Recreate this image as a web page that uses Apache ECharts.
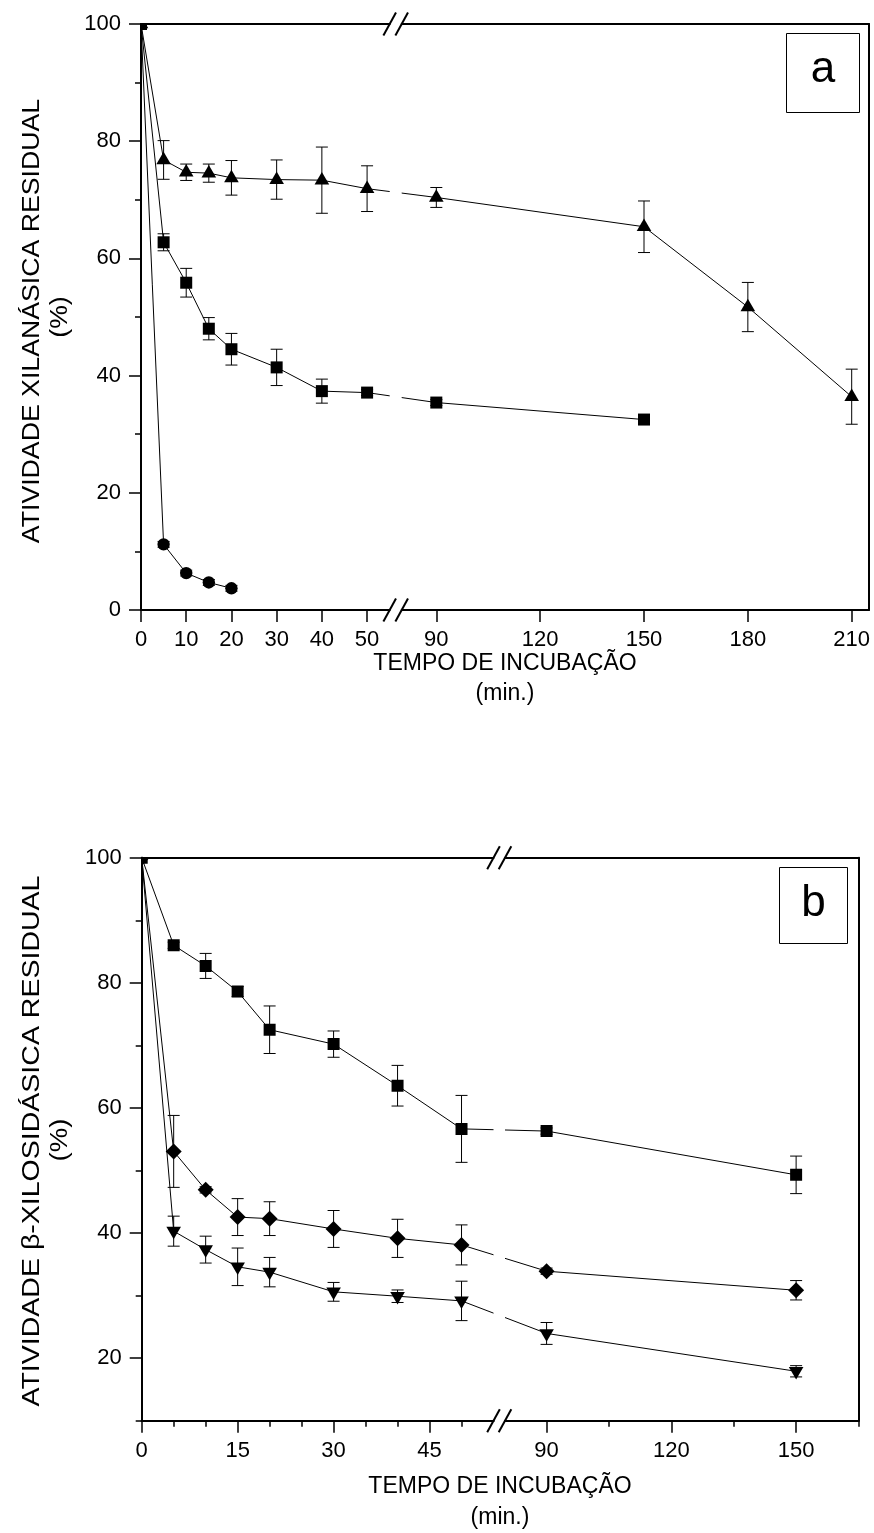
<!DOCTYPE html>
<html><head><meta charset="utf-8">
<script src="https://cdn.jsdelivr.net/npm/echarts@6/dist/echarts.min.js"></script>
<style>html,body{margin:0;padding:0;background:#fff}#c{width:874px;height:1533px}</style>
</head><body><div id="c"></div>
<script>
// ---------------- DATA ----------------
// Panel a: residual xylanase activity (%)
const timeATri = [0, 5, 10, 15, 20, 30, 40, 50, 90, 150, 180, 210];
const xilTri = [100, 76.8, 74.7, 74.55, 73.75, 73.45, 73.35, 71.9, 70.4, 65.4, 51.7, 36.4];
const xilTriErr = [0, 3.3, 1.4, 1.55, 2.95, 3.35, 5.65, 3.9, 1.7, 4.4, 4.2, 4.7];
const timeASq = [0, 5, 10, 15, 20, 30, 40, 50, 90, 150];
const xilSq = [100, 62.75, 55.85, 48.0, 44.5, 41.4, 37.35, 37.1, 35.4, 32.5];
const xilSqErr = [0, 1.45, 2.45, 1.9, 2.7, 3.1, 2.05, 0.5, 0.5, 0.5];
const timeACirc = [0, 5, 10, 15, 20];
const xilCirc = [100, 11.2, 6.3, 4.7, 3.7];
const xilCircErr = [0, 0.5, 0.5, 0.5, 0.5];

// Panel b: residual beta-xylosidase activity (%)
const timeB = [0, 5, 10, 15, 20, 30, 40, 50, 90, 150];
const xiloSq = [100, 86.0, 82.7, 78.6, 72.5, 70.2, 63.55, 56.65, 56.3, 49.3];
const xiloSqErr = [0, 0.5, 2.0, 0.8, 3.8, 2.1, 3.25, 5.35, 0.5, 3.0];
const xiloDia = [100, 53.05, 46.9, 42.55, 42.3, 40.65, 39.15, 38.1, 33.9, 30.85];
const xiloDiaErr = [0, 5.75, 0.5, 2.95, 2.7, 2.95, 3.05, 3.2, 0.5, 1.55];
const xiloTri = [100, 40.3, 37.35, 34.6, 33.75, 30.6, 29.9, 29.15, 23.95, 17.9];
const xiloTriErr = [0, 2.4, 2.15, 3.0, 2.35, 1.5, 1.0, 3.15, 1.75, 0.9];

// Tick labels
const ticksA1 = [0, 10, 20, 30, 40, 50];
const ticksA2 = [90, 120, 150, 180, 210];
const ticksYA = [0, 20, 40, 60, 80, 100];
const minorYA = [10, 30, 50, 70, 90];
const ticksB1 = [0, 15, 30, 45];
const minorB1 = [5, 10, 20, 25, 35, 40, 50];
const ticksB2 = [90, 120, 150];
const minorB2 = [105, 135, 165];
const ticksYB = [20, 40, 60, 80, 100];
const minorYB = [10, 30, 50, 70, 90];

// Axis ranges of the broken segments
const segA1 = [0, 55], segA2 = [80, 215], segB1 = [0, 55], segB2 = [80, 165];
const rangeYA = [0, 100], rangeYB = [10, 100];

// ---------------- LAYOUT ----------------
const FONT = '"Liberation Sans", Arial, sans-serif';
const TICK_FS = 22, TITLE_FS = 23;
const grids = [
  {left: 141, top: 24, width: 248.7, height: 586},
  {left: 401.7, top: 24, width: 467.3, height: 586},
  {left: 141.7, top: 857.7, width: 351.8, height: 563},
  {left: 505, top: 857.7, width: 353.5, height: 563}
];

function ax(g, rng, pos, ticks, len, labels, margin) {
  return {
    type: 'value', gridIndex: g, position: pos, min: rng[0], max: rng[1],
    axisLine: {show: true, onZero: false, lineStyle: {color: '#000', width: 2}},
    axisTick: ticks ? {show: true, inside: false, length: len, customValues: ticks, lineStyle: {color: '#000', width: 1.5}} : {show: false},
    axisLabel: labels ? {show: true, customValues: ticks, fontSize: TICK_FS, color: '#000', fontFamily: FONT, margin: margin} : {show: false},
    splitLine: {show: false}
  };
}

const xAxis = [
  ax(0, segA1, 'bottom', ticksA1, 12, true, 19),   // 0
  ax(0, segA1, 'top', null, 0, false),             // 1
  ax(1, segA2, 'bottom', ticksA2, 12, true, 19),   // 2
  ax(1, segA2, 'top', null, 0, false),             // 3
  ax(2, segB1, 'bottom', ticksB1, 12, true, 19),   // 4
  ax(2, segB1, 'bottom', minorB1, 6, false),       // 5
  ax(2, segB1, 'top', null, 0, false),             // 6
  ax(3, segB2, 'bottom', ticksB2, 12, true, 19),   // 7
  ax(3, segB2, 'bottom', minorB2, 6, false),       // 8
  ax(3, segB2, 'top', null, 0, false)              // 9
];
const yAxis = [
  ax(0, rangeYA, 'left', ticksYA, 12, true, 20),   // 0
  ax(0, rangeYA, 'left', minorYA, 6, false),       // 1
  ax(1, rangeYA, 'right', null, 0, false),         // 2
  ax(2, rangeYB, 'left', ticksYB, 12, true, 20),   // 3
  ax(2, rangeYB, 'left', minorYB, 6, false),       // 4
  ax(3, rangeYB, 'right', null, 0, false)          // 5
];

function seg(times, vals, errs, rng) {
  const out = [];
  times.forEach((t, i) => { if (t >= rng[0] && t <= rng[1]) out.push([t, vals[i], errs[i]]); });
  return out;
}
function marker(kind, cx, cy) {
  const s = {fill: '#000'};
  switch (kind) {
    case 'square': return {type: 'rect', shape: {x: cx - 6, y: cy - 6, width: 12, height: 12}, style: s};
    case 'circle': return {type: 'circle', shape: {cx: cx, cy: cy, r: 6.2}, style: s};
    case 'tri': return {type: 'polygon', shape: {points: [[cx, cy - 8.2], [cx + 7.3, cy + 4.3], [cx - 7.3, cy + 4.3]]}, style: s};
    case 'triDown': return {type: 'polygon', shape: {points: [[cx, cy + 8.2], [cx + 7.3, cy - 4.3], [cx - 7.3, cy - 4.3]]}, style: s};
    case 'diamond': return {type: 'polygon', shape: {points: [[cx, cy - 8], [cx + 8, cy], [cx, cy + 8], [cx - 8, cy]]}, style: s};
  }
}
function lineSeries(xi, yi, pts) {
  return {type: 'line', xAxisIndex: xi, yAxisIndex: yi, data: pts.map(p => [p[0], p[1]]),
    symbol: 'none', clip: true, animation: false, silent: true, z: 2,
    lineStyle: {color: '#000', width: 1}};
}
function markSeries(xi, yi, pts, kind) {
  return {type: 'custom', xAxisIndex: xi, yAxisIndex: yi, data: pts, clip: true,
    animation: false, silent: true, z: 3, encode: {x: 0, y: 1},
    renderItem: function (params, api) {
      const x = api.value(0), y = api.value(1), e = api.value(2);
      const c = api.coord([x, y]);
      const ch = [];
      if (e > 0) {
        const t = api.coord([x, y + e]), b = api.coord([x, y - e]);
        const ls = {stroke: '#000', lineWidth: 1};
        ch.push({type: 'line', shape: {x1: c[0], y1: t[1], x2: c[0], y2: b[1]}, style: ls});
        ch.push({type: 'line', shape: {x1: c[0] - 6, y1: t[1], x2: c[0] + 6, y2: t[1]}, style: ls});
        ch.push({type: 'line', shape: {x1: c[0] - 6, y1: b[1], x2: c[0] + 6, y2: b[1]}, style: ls});
      }
      ch.push(marker(kind, c[0], c[1]));
      return {type: 'group', children: ch};
    }};
}

// groups: [times, vals, errs, kind, seg1, seg2, x1, y1, x2, y2]
const groups = [
  [timeATri, xilTri, xilTriErr, 'tri', segA1, segA2, 0, 0, 2, 2],
  [timeASq, xilSq, xilSqErr, 'square', segA1, segA2, 0, 0, 2, 2],
  [timeACirc, xilCirc, xilCircErr, 'circle', segA1, segA2, 0, 0, 2, 2],
  [timeB, xiloSq, xiloSqErr, 'square', segB1, segB2, 4, 3, 7, 5],
  [timeB, xiloDia, xiloDiaErr, 'diamond', segB1, segB2, 4, 3, 7, 5],
  [timeB, xiloTri, xiloTriErr, 'triDown', segB1, segB2, 4, 3, 7, 5]
];

const series = [];
const links = [];
groups.forEach(g => {
  const [t, v, e, kind, s1, s2, x1, y1, x2, y2] = g;
  const d1 = seg(t, v, e, s1), d2 = seg(t, v, e, s2);
  let i1 = -1, i2 = -1;
  if (d1.length) { i1 = series.length; series.push(lineSeries(x1, y1, d1)); series.push(markSeries(x1, y1, d1, kind)); }
  if (d2.length) { i2 = series.length; series.push(lineSeries(x2, y2, d2)); series.push(markSeries(x2, y2, d2, kind)); }
  if (d1.length && d2.length) links.push({i1, i2, p1: d1[d1.length - 1], p2: d2[0], s1, s2});
});

const chart = echarts.init(document.getElementById('c'), null, {renderer: 'canvas'});
chart.setOption({animation: false, backgroundColor: '#fff', grid: grids, xAxis, yAxis, series});

// ---------------- GRAPHICS (break marks, connectors, titles) ----------------
const graphic = [];
const black = {stroke: '#000', lineWidth: 1};
links.forEach(L => {
  const a = chart.convertToPixel({seriesIndex: L.i1}, [L.p1[0], L.p1[1]]);
  const b = chart.convertToPixel({seriesIndex: L.i2}, [L.p2[0], L.p2[1]]);
  const xl = chart.convertToPixel({seriesIndex: L.i1}, [L.s1[1], L.p1[1]])[0];
  const xr = chart.convertToPixel({seriesIndex: L.i2}, [L.s2[0], L.p2[1]])[0];
  const yAt = x => a[1] + (b[1] - a[1]) * (x - a[0]) / (b[0] - a[0]);
  graphic.push({type: 'line', z: 2, shape: {x1: a[0], y1: a[1], x2: xl, y2: yAt(xl)}, style: black});
  graphic.push({type: 'line', z: 2, shape: {x1: xr, y1: yAt(xr), x2: b[0], y2: b[1]}, style: black});
});
// break slashes
[[0, 2, 0, 2, segA1, segA2, rangeYA], [4, 7, 3, 5, segB1, segB2, rangeYB]].forEach(([xa, xb, yi, yj, s1, s2, ry]) => {
  const pl = chart.convertToPixel({xAxisIndex: xa, yAxisIndex: yi}, [s1[1], ry[0]]);
  const pt = chart.convertToPixel({xAxisIndex: xa, yAxisIndex: yi}, [s1[1], ry[1]]);
  const pr = chart.convertToPixel({xAxisIndex: xb, yAxisIndex: yj}, [s2[0], ry[0]]);
  [pl[0], pr[0]].forEach(x => {
    [pl[1], pt[1]].forEach(y => {
      graphic.push({type: 'line', z: 5, shape: {x1: x - 6.3, y1: y + 11.5, x2: x + 6.3, y2: y - 11.5}, style: {stroke: '#000', lineWidth: 2}});
    });
  });
});
function txt(text, x, y, size, rot, stretch) {
  return {type: 'text', x: x, y: y, rotation: rot || 0, scaleX: stretch || 1, z: 10,
    style: {text: text, font: size + 'px ' + FONT, fill: '#000', align: 'center', verticalAlign: 'middle'}};
}
graphic.push(txt('TEMPO DE INCUBAÇÃO', 505, 664, TITLE_FS));
graphic.push(txt('(min.)', 505, 694, TITLE_FS));
graphic.push(txt('ATIVIDADE XILANÁSICA RESIDUAL', 33, 321, TITLE_FS, Math.PI / 2, 1.16));
graphic.push(txt('(%)', 61, 317, TITLE_FS, Math.PI / 2, 1.16));
graphic.push(txt('TEMPO DE INCUBAÇÃO', 500, 1487, TITLE_FS));
graphic.push(txt('(min.)', 500, 1518, TITLE_FS));
graphic.push(txt('ATIVIDADE β-XILOSIDÁSICA RESIDUAL', 33, 1141, TITLE_FS, Math.PI / 2, 1.24));
graphic.push(txt('(%)', 61, 1140, TITLE_FS, Math.PI / 2, 1.2));
// panel labels
graphic.push({type: 'rect', z: 8, shape: {x: 786.5, y: 33.5, width: 73, height: 79}, style: {fill: '#fff', stroke: '#000', lineWidth: 1}});
graphic.push(txt('a', 823, 70, 44));
graphic.push({type: 'rect', z: 8, shape: {x: 779.5, y: 867.5, width: 68, height: 76}, style: {fill: '#fff', stroke: '#000', lineWidth: 1}});
graphic.push(txt('b', 813.5, 904, 44));

chart.setOption({graphic: graphic});
</script>
</body></html>
